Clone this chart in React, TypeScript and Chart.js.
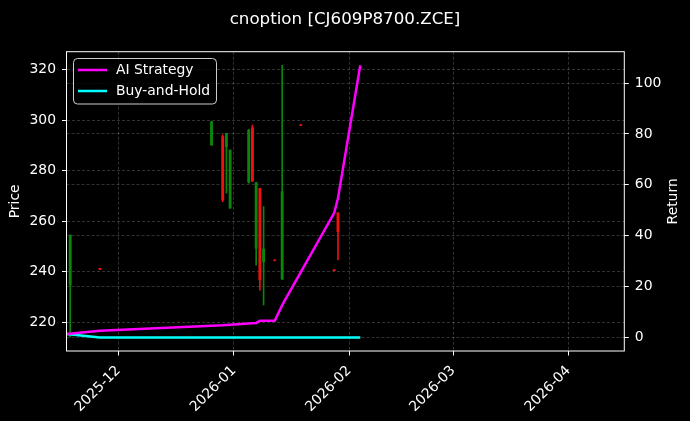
import { useEffect, useRef } from "react"
import { Chart, registerables } from "chart.js"

Chart.register(...registerables)

// candles (price axis)
const candleDates = ["2025-11-18", "2025-11-26", "2025-12-26", "2025-12-29", "2025-12-30", "2025-12-31", "2026-01-05", "2026-01-06", "2026-01-07", "2026-01-08", "2026-01-09", "2026-01-12", "2026-01-14", "2026-01-19", "2026-01-28", "2026-01-29"]
const opens = [234.8, 241.2, 290.2, 293.5, 289.5, 265.2, 275.5, 297.0, 249.4, 273.1, 244.0, 244.5, 237.2, 298.0, 240.6, 263.4]
const highs = [254.6, 241.3, 299.6, 294.2, 294.8, 288.2, 296.4, 298.1, 275.3, 273.1, 265.8, 244.6, 321.7, 298.1, 240.7, 263.4]
const lows = [214.3, 240.9, 290.0, 267.8, 271.1, 265.2, 275.1, 275.7, 242.7, 232.8, 226.9, 244.3, 236.9, 297.8, 240.4, 244.7]
const closes = [254.6, 241.0, 299.4, 268.5, 294.8, 288.2, 296.0, 276.0, 275.3, 236.8, 249.0, 244.4, 271.7, 297.9, 240.5, 255.9]

// return lines
const strategyDates = ["2025-11-17", "2025-11-26", "2025-12-29", "2026-01-07", "2026-01-08", "2026-01-12", "2026-01-14", "2026-01-28", "2026-01-29", "2026-02-04"]
const strategyReturns = [1.3, 2.6, 4.8, 5.7, 6.5, 6.5, 12.7, 49.0, 54.7, 107.0]
const holdDates = ["2025-11-17", "2025-11-26", "2026-02-04"]
const holdReturns = [1.3, 0, 0]

const xTickLabels = ["2025-12", "2026-01", "2026-02", "2026-03", "2026-04"]
const priceTicks = [220, 240, 260, 280, 300, 320]
const returnTicks = [0, 20, 40, 60, 80, 100]

const FONT = "DejaVu Sans"
const GREEN = "#0a870a"
const RED = "#f01010"
const GRID = "rgba(255,255,255,0.28)"

const day = (s: string) =>
  Date.UTC(+s.slice(0, 4), +s.slice(5, 7) - 1, s.length > 7 ? +s.slice(8, 10) : 1) / 86400000

const dayLabel = (v: number) => {
  const d = new Date(v * 86400000)
  return `${d.getUTCFullYear()}-${String(d.getUTCMonth() + 1).padStart(2, "0")}`
}

const chartPlugins = [
  {
    id: "bg",
    beforeDraw(chart: Chart) {
      const { ctx, width, height } = chart
      ctx.save()
      ctx.fillStyle = "#000"
      ctx.fillRect(0, 0, width, height)
      ctx.restore()
    },
  },
  {
    id: "frame",
    afterDatasetsDraw(chart: Chart) {
      const { ctx, chartArea: a } = chart
      ctx.save()
      ctx.strokeStyle = "#fff"
      ctx.lineWidth = 1
      ctx.strokeRect(a.left, a.top, a.right - a.left, a.bottom - a.top)
      ctx.restore()
    },
  },
  {
    id: "extras",
    afterDraw(chart: Chart) {
      const { ctx, chartArea: a } = chart
      ctx.save()
      // right axis title, reading upwards
      ctx.translate(673, (a.top + a.bottom) / 2)
      ctx.rotate(-Math.PI / 2)
      ctx.fillStyle = "#fff"
      ctx.font = `13.9px "${FONT}"`
      ctx.textAlign = "center"
      ctx.textBaseline = "middle"
      ctx.fillText("Return", 0, 0)
      ctx.restore()

      // legend box
      ctx.save()
      const x0 = 73.5, y0 = 58.5, w = 143, h = 45.5, r = 4
      ctx.beginPath()
      ctx.roundRect(x0, y0, w, h, r)
      ctx.fillStyle = "rgba(0,0,0,0.8)"
      ctx.fill()
      ctx.strokeStyle = "#cccccc"
      ctx.lineWidth = 1
      ctx.stroke()
      const items = [
        { label: "AI Strategy", color: "#ff00ff", y: 70 },
        { label: "Buy-and-Hold", color: "#00ffff", y: 91 },
      ]
      ctx.font = `13.9px "${FONT}"`
      ctx.textBaseline = "middle"
      ctx.textAlign = "left"
      for (const it of items) {
        ctx.strokeStyle = it.color
        ctx.lineWidth = 2.5
        ctx.beginPath()
        ctx.moveTo(78, it.y)
        ctx.lineTo(107, it.y)
        ctx.stroke()
        ctx.fillStyle = "#fff"
        ctx.fillText(it.label, 116, it.y + 0.5)
      }
      ctx.restore()
    },
  },
]

export default function App() {
  const chartRef = useRef<HTMLCanvasElement>(null)
  const chartInstance = useRef<Chart | null>(null)

  useEffect(() => {
    if (!chartRef.current) return
    document.body.style.margin = "0"
    document.body.style.background = "#000"

    if (chartInstance.current) {
      chartInstance.current.destroy()
    }

    const colors = candleDates.map((_, i) => (closes[i] >= opens[i] ? GREEN : RED))

    chartInstance.current = new Chart(chartRef.current, {
      type: "bar",
      data: {
        datasets: [
          {
            type: "line",
            label: "AI Strategy",
            data: strategyDates.map((d, i) => ({ x: day(d), y: strategyReturns[i] })),
            borderColor: "#ff00ff",
            borderWidth: 2.5,
            pointRadius: 0,
            tension: 0,
            yAxisID: "y1",
            order: 0,
          },
          {
            type: "line",
            label: "Buy-and-Hold",
            data: holdDates.map((d, i) => ({ x: day(d), y: holdReturns[i] })),
            borderColor: "#00ffff",
            borderWidth: 2.5,
            pointRadius: 0,
            tension: 0,
            yAxisID: "y1",
            order: 1,
          },
          {
            type: "bar",
            label: "body",
            data: candleDates.map((d, i) => ({ x: day(d), y: [opens[i], closes[i]] })) as any,
            backgroundColor: colors,
            barThickness: 2.2,
            minBarLength: 1,
            grouped: false,
            yAxisID: "y",
            order: 2,
          },
          {
            type: "bar",
            label: "wick",
            data: candleDates.map((d, i) => ({ x: day(d), y: [lows[i], highs[i]] })) as any,
            backgroundColor: colors,
            barThickness: 1,
            minBarLength: 1,
            grouped: false,
            yAxisID: "y",
            order: 3,
          },
        ],
      },
      options: {
        responsive: false,
        animation: false,
        events: [],
        layout: { padding: 0 },
        scales: {
          x: {
            type: "linear",
            offset: false,
            min: day("2025-11-17"),
            max: day("2026-04-16"),
            afterBuildTicks: (s: any) => {
              s.ticks = xTickLabels.map((l) => ({ value: day(l) }))
            },
            afterFit: (s: any) => {
              s.height = 70
            },
            ticks: {
              autoSkip: false,
              maxRotation: 45,
              minRotation: 45,
              padding: 7,
              color: "#fff",
              font: { family: FONT, size: 13.9 },
              callback: (v: any) => dayLabel(Number(v)),
            },
            grid: {
              offset: false,
              color: GRID,
              lineWidth: 0.7,
              tickColor: "#fff",
              tickLength: 4.5,
              tickWidth: 1,
            },
            border: { display: false, dash: [3, 2] },
          },
          y: {
            type: "linear",
            position: "left",
            min: 208.7,
            max: 327.1,
            afterBuildTicks: (s: any) => {
              s.ticks = priceTicks.map((v) => ({ value: v }))
            },
            afterFit: (s: any) => {
              s.width = 66.5
            },
            ticks: {
              padding: 6,
              color: "#fff",
              font: { family: FONT, size: 13.9 },
            },
            title: {
              display: true,
              text: "Price",
              color: "#fff",
              font: { family: FONT, size: 13.9 },
              padding: { top: 7.5, bottom: 0 },
            },
            grid: {
              color: GRID,
              lineWidth: 0.7,
              tickColor: "#fff",
              tickLength: 4.5,
              tickWidth: 1,
            },
            border: { display: false, dash: [3, 2] },
          },
          y1: {
            type: "linear",
            position: "right",
            min: -5.35,
            max: 112.35,
            afterBuildTicks: (s: any) => {
              s.ticks = returnTicks.map((v) => ({ value: v }))
            },
            afterFit: (s: any) => {
              s.width = 65.7
            },
            ticks: {
              padding: 6,
              color: "#fff",
              font: { family: FONT, size: 13.9 },
            },
            grid: {
              color: GRID,
              lineWidth: 0.7,
              tickColor: "#fff",
              tickLength: 4.5,
              tickWidth: 1,
            },
            border: { display: false, dash: [3, 2] },
          },
        },
        plugins: {
          legend: { display: false },
          tooltip: { enabled: false },
          title: {
            display: true,
            text: "cnoption [CJ609P8700.ZCE]",
            color: "#fff",
            font: { family: FONT, size: 16.7, weight: "normal" },
            padding: { top: 9.5, bottom: 22.16 },
          },
        },
      },
      plugins: chartPlugins as any,
    })

    return () => {
      if (chartInstance.current) {
        chartInstance.current.destroy()
        chartInstance.current = null
      }
    }
  }, [])

  return (
    <div style={{ position: "fixed", left: 0, top: 0, width: 690, height: 421, background: "#000" }}>
      <canvas ref={chartRef} width={690} height={421} style={{ display: "block" }} />
    </div>
  )
}
